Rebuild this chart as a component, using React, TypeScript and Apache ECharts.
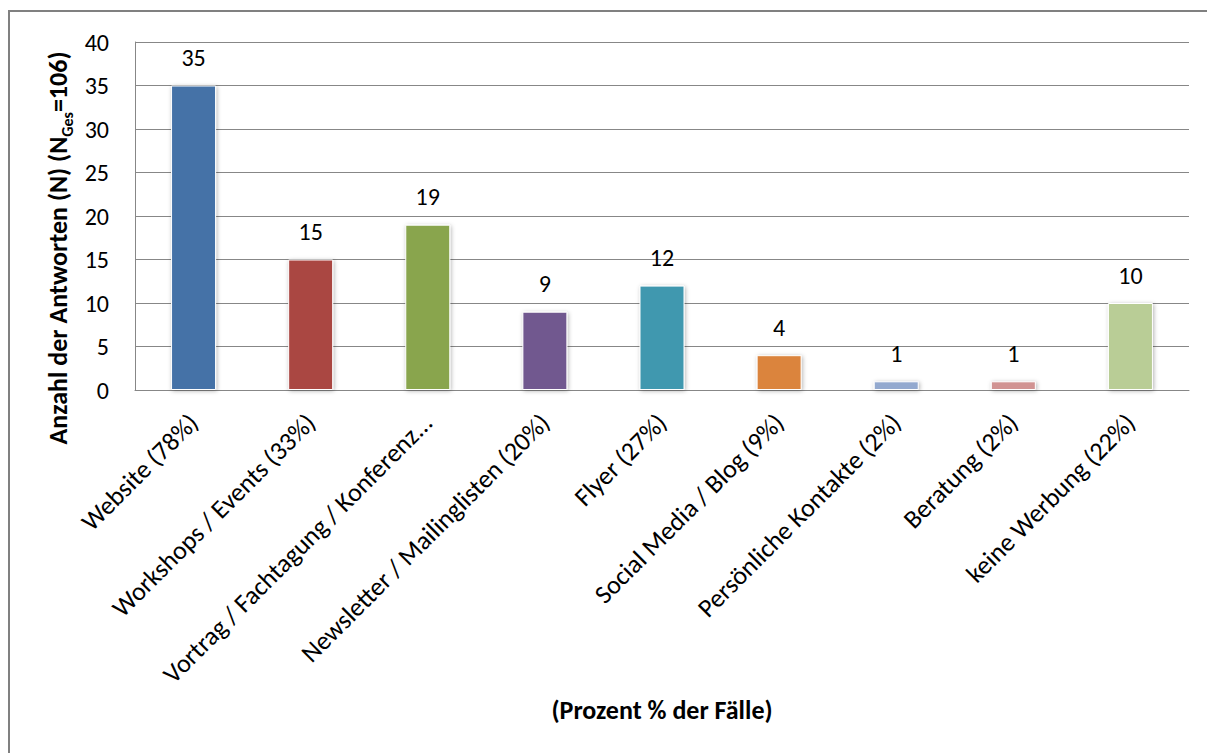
import React, { useEffect, useRef } from "react";
import * as echarts from "echarts";

const categories = [
  "Website (78%)",
  "Workshops / Events (33%)",
  "Vortrag / Fachtagung / Konferenz...",
  "Newsletter / Mailinglisten (20%)",
  "Flyer (27%)",
  "Social Media / Blog (9%)",
  "Persönliche Kontakte (2%)",
  "Beratung (2%)",
  "keine Werbung (22%)",
];
const values = [35, 15, 19, 9, 12, 4, 1, 1, 10];
const colors = [
  "#4572A7",
  "#AA4643",
  "#89A54E",
  "#71588F",
  "#4198AF",
  "#DB843D",
  "#93A9CF",
  "#D19392",
  "#B9CD96",
];
const yTicks = { min: 0, max: 40, interval: 5 };
const xTitle = "(Prozent % der Fälle)";
const yTitleMain = "Anzahl der Antworten (N) (N";
const yTitleSub = "Ges";
const yTitleEnd = "=106)";

const FONT = "Carlito, Lato, sans-serif";

export default function App() {
  const ref = useRef<HTMLDivElement>(null);
  useEffect(() => {
    document.body.style.margin = "0";
    const chart = echarts.init(ref.current!, null, { renderer: "svg" });
    const gridColor = "#878787";
    chart.setOption({
      animation: false,
      backgroundColor: "#ffffff",
      textStyle: { fontFamily: FONT },
      grid: { left: 135, right: 18, top: 42, bottom: 363, containLabel: false },
      graphic: [
        {
          type: "rect",
          z: -10,
          silent: true,
          shape: { x: 9, y: 11, width: 1400, height: 900 },
          style: { fill: "none", stroke: "#808080", lineWidth: 2 },
        },
        {
          type: "text",
          x: 58,
          y: 248,
          rotation: Math.PI / 2,
          silent: true,
          style: {
            text: `{m|${yTitleMain}}{s|${yTitleSub}}{m|${yTitleEnd}}`,
            align: "center",
            verticalAlign: "middle",
            rich: {
              m: {
                fontSize: 26,
                fontWeight: "bold",
                fill: "#000",
                fontFamily: FONT,
                lineHeight: 34,
              },
              s: {
                fontSize: 16,
                fontWeight: "bold",
                fill: "#000",
                fontFamily: FONT,
                lineHeight: 16,
                verticalAlign: "bottom",
              },
            },
          },
        },
      ],
      xAxis: {
        type: "category",
        data: categories,
        axisLine: { show: true, lineStyle: { color: gridColor, width: 1 } },
        axisTick: { show: false },
        axisLabel: {
          interval: 0,
          rotate: 45,
          margin: 28,
          fontSize: 26,
          color: "#000",
          fontFamily: FONT,
        },
        name: xTitle,
        nameLocation: "middle",
        nameGap: 307,
        nameTextStyle: {
          fontSize: 26,
          fontWeight: "bold",
          color: "#000",
          fontFamily: FONT,
        },
      },
      yAxis: {
        type: "value",
        min: yTicks.min,
        max: yTicks.max,
        interval: yTicks.interval,
        axisLine: { show: true, lineStyle: { color: gridColor, width: 1 } },
        axisTick: { show: false },
        splitLine: { show: true, lineStyle: { color: gridColor, width: 1 } },
        axisLabel: { margin: 26, fontSize: 24, color: "#000", fontFamily: FONT },
      },
      series: [
        {
          type: "bar",
          data: values.map((v, i) => ({
            value: v,
            itemStyle: { color: colors[i] },
          })),
          barWidth: 45,
          itemStyle: {
            borderColor: "#ffffff",
            borderWidth: 1,
            shadowBlur: 4,
            shadowColor: "rgba(0,0,0,0.3)",
            shadowOffsetX: 1,
            shadowOffsetY: 1,
          },
          label: {
            show: true,
            position: "top",
            distance: 16,
            fontSize: 24,
            color: "#000",
            fontFamily: FONT,
          },
        },
      ],
    });
    return () => chart.dispose();
  }, []);
  return <div ref={ref} style={{ width: 1207, height: 753 }} />;
}
